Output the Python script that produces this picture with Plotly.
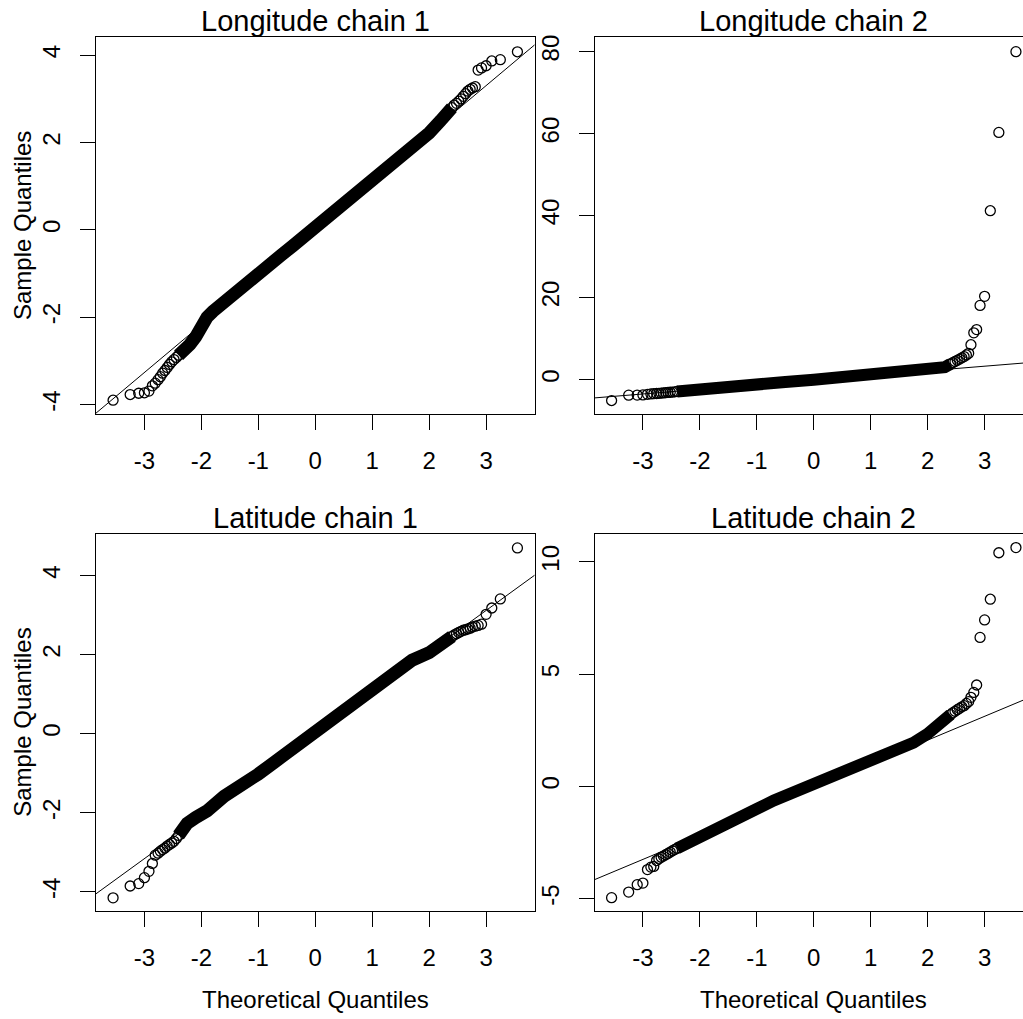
import plotly.graph_objects as go

# ---------------- data ----------------
titles = ["Longitude chain 1", "Longitude chain 2", "Latitude chain 1", "Latitude chain 2"]
x_ticks = [-3, -2, -1, 0, 1, 2, 3]
y_ticks_tl = [-4, -2, 0, 2, 4]
y_ticks_tr = [0, 20, 40, 60, 80]
y_ticks_bl = [-4, -2, 0, 2, 4]
y_ticks_br = [-5, 0, 5, 10]

# theoretical quantiles of the separate (tail) points
tail_x_low = [-3.55, -3.25, -3.10, -3.00, -2.92, -2.86, -2.81, -2.76, -2.72, -2.68, -2.64,
              -2.60, -2.56, -2.52, -2.48, -2.44, -2.40]
tail_x_high = [2.40, 2.44, 2.48, 2.52, 2.56, 2.60,
               2.64, 2.68, 2.72, 2.76, 2.81, 2.86, 2.92, 3.00, 3.10, 3.25, 3.55]

# Longitude chain 1
tl_low_y = [-3.90, -3.77, -3.74, -3.73, -3.69, -3.57, -3.51, -3.43, -3.36, -3.28, -3.22,
            -3.15, -3.08, -3.02, -2.97, -2.92, -2.87]
tl_high_y = [2.80, 2.86, 2.90, 2.95, 3.00, 3.06,
             3.12, 3.18, 3.22, 3.25, 3.28, 3.66, 3.71, 3.76, 3.87, 3.90, 4.08]
tl_band_x = [-2.4, -2.3, -2.2, -2.1, -2.0, -1.9, -1.8, -1.6, -1.4, -1.2, -1.0, -0.8, -0.6, -0.4,
             -0.2, 0.0, 0.2, 0.4, 0.6, 0.8, 1.0, 1.2, 1.4, 1.6, 1.8, 2.0, 2.2, 2.4]
tl_band_y = [-2.87, -2.77, -2.62, -2.45, -2.20, -2.00, -1.87, -1.64, -1.45, -1.22, -1.00, -0.80,
             -0.58, -0.37, -0.16, 0.08, 0.28, 0.50, 0.70, 0.93, 1.14, 1.36, 1.58, 1.79, 2.00,
             2.22, 2.50, 2.80]
tl_qqline = (1.095, 0.02)   # slope, intercept

# Longitude chain 2
tr_low_y = [-5.12, -3.80, -3.78, -3.76, -3.60, -3.50, -3.45, -3.40, -3.35, -3.30, -3.25,
            -3.20, -3.15, -3.10, -3.05, -3.00, -2.90]
tr_high_y = [3.80, 4.10, 4.40, 4.70, 5.00, 5.30,
             5.60, 6.00, 6.40, 8.50, 11.4, 12.2, 18.1, 20.3, 41.2, 60.3, 80.0]
tr_band_x = [-2.4, -2.2, -2.0, -1.5, -1.0, -0.5, 0.0, 0.5, 1.0, 1.5, 2.0, 2.2, 2.3, 2.4]
tr_band_y = [-2.90, -2.60, -2.35, -1.80, -1.20, -0.60, -0.05, 0.50, 1.05, 1.60, 2.20, 2.60,
             3.00, 3.80]
tr_qqline = (1.13, -0.13)

# Latitude chain 1
bl_low_y = [-4.15, -3.85, -3.79, -3.64, -3.48, -3.28, -3.07, -3.02, -2.97, -2.93, -2.89,
            -2.84, -2.80, -2.76, -2.72, -2.65, -2.57]
bl_high_y = [2.46, 2.50, 2.53, 2.56, 2.59, 2.62,
             2.63, 2.65, 2.67, 2.70, 2.72, 2.74, 2.77, 3.02, 3.18, 3.41, 4.70]
bl_band_x = [-2.4, -2.25, -2.1, -1.9, -1.6, -1.3, -1.0, -0.7, -0.4, 0.0, 0.5, 1.0, 1.4, 1.7,
             2.0, 2.3, 2.4]
bl_band_y = [-2.57, -2.27, -2.12, -1.95, -1.58, -1.33, -1.02, -0.70, -0.38, 0.03, 0.57, 1.09,
             1.52, 1.86, 2.05, 2.37, 2.46]
bl_qqline = (1.046, -0.02)

# Latitude chain 2
br_low_y = [-4.95, -4.70, -4.37, -4.30, -3.70, -3.59, -3.56, -3.30, -3.22, -3.15, -3.10,
            -3.04, -2.98, -2.92, -2.86, -2.80, -2.75]
br_high_y = [3.20, 3.28, 3.35, 3.42, 3.48, 3.55,
             3.60, 3.70, 3.78, 3.97, 4.19, 4.52, 6.64, 7.42, 8.34, 10.41, 10.64]
br_band_x = [-2.4, -2.2, -2.0, -1.6, -1.3, -1.0, -0.7, -0.4, 0.0, 0.4, 0.8, 1.0, 1.3, 1.6,
             1.75, 2.0, 2.2, 2.4]
br_band_y = [-2.75, -2.52, -2.28, -1.78, -1.36, -1.00, -0.62, -0.30, 0.03, 0.45, 0.90, 1.15,
             1.52, 1.80, 1.95, 2.35, 2.70, 3.20]
br_qqline = (1.062, -0.06)

# ---------------- layout geometry ----------------
W, H = 1023, 1019
FONT = "Liberation Sans, Arial, sans-serif"
X_RANGE_L = [-3.85, 3.85]
X_RANGE_R = [-3.85, 3.674]
left_dom = [96 / W, 534.5 / W]
right_dom = [594.5 / W, 1.0]
top_dom = [1 - 413 / H, 1 - 35 / H]
bot_dom = [1 - 910.7 / H, 1 - 532.7 / H]

panels = [
    dict(xa="x", ya="y", xd=left_dom, yd=top_dom, xr=X_RANGE_L, yr=[-4.22, 4.42],
         yt=y_ticks_tl, low=tl_low_y, high=tl_high_y, bx=tl_band_x, by=tl_band_y,
         qq=tl_qqline, title=titles[0], ylab=True, xlab=False, right=False, bw=13),
    dict(xa="x2", ya="y2", xd=right_dom, yd=top_dom, xr=X_RANGE_R, yr=[-8.45, 83.6],
         yt=y_ticks_tr, low=tr_low_y, high=tr_high_y, bx=tr_band_x, by=tr_band_y,
         qq=tr_qqline, title=titles[1], ylab=False, xlab=False, right=True, bw=12),
    dict(xa="x3", ya="y3", xd=left_dom, yd=bot_dom, xr=X_RANGE_L, yr=[-4.48, 5.06],
         yt=y_ticks_bl, low=bl_low_y, high=bl_high_y, bx=bl_band_x, by=bl_band_y,
         qq=bl_qqline, title=titles[2], ylab=True, xlab=True, right=False, bw=13),
    dict(xa="x4", ya="y4", xd=right_dom, yd=bot_dom, xr=X_RANGE_R, yr=[-5.54, 11.26],
         yt=y_ticks_br, low=br_low_y, high=br_high_y, bx=br_band_x, by=br_band_y,
         qq=br_qqline, title=titles[3], ylab=False, xlab=True, right=True, bw=12),
]

fig = go.Figure()
layout = dict(width=W, height=H, autosize=False, margin=dict(l=0, r=0, t=0, b=0),
              paper_bgcolor="white", plot_bgcolor="white", showlegend=False,
              font=dict(family=FONT, color="black", size=24))
annotations = []

for p in panels:
    # dense body of points (drawn as a heavy stroke through read positions)
    fig.add_trace(go.Scatter(x=p["bx"], y=p["by"], xaxis=p["xa"], yaxis=p["ya"],
                             mode="lines", line=dict(color="black", width=p["bw"]),
                             hoverinfo="skip"))
    # separate points
    fig.add_trace(go.Scatter(x=tail_x_low + tail_x_high, y=p["low"] + p["high"],
                             xaxis=p["xa"], yaxis=p["ya"], mode="markers",
                             marker=dict(symbol="circle-open", size=10, color="black",
                                         line=dict(width=1.3, color="black"))))
    # qqline
    s, b = p["qq"]
    lx = [-4.5, 4.5]
    fig.add_trace(go.Scatter(x=lx, y=[s * v + b for v in lx], xaxis=p["xa"], yaxis=p["ya"],
                             mode="lines", line=dict(color="black", width=1)))

    xkey = "xaxis" + p["xa"][1:]
    ykey = "yaxis" + p["ya"][1:]
    layout[xkey] = dict(domain=p["xd"], range=p["xr"], anchor=p["ya"], showgrid=False,
                        zeroline=False, showline=True, linecolor="black", linewidth=1,
                        mirror=True, ticks="outside", ticklen=15, tickwidth=1,
                        tickcolor="black", tickvals=x_ticks, ticktext=[str(v) for v in x_ticks],
                        tickfont=dict(size=24, family=FONT, color="black"),
                        ticklabelstandoff=10, fixedrange=True)
    layout[ykey] = dict(domain=p["yd"], range=p["yr"], anchor=p["xa"], showgrid=False,
                        zeroline=False, showline=True, linecolor="black", linewidth=1,
                        mirror=not p["right"], ticks="outside", ticklen=15, tickwidth=1,
                        tickcolor="black", tickvals=p["yt"], ticktext=[str(v) for v in p["yt"]],
                        tickangle=-90, tickfont=dict(size=24, family=FONT, color="black"),
                        ticklabelstandoff=10, fixedrange=True)

    ytop_px = (1 - p["yd"][1]) * H
    annotations.append(dict(text=p["title"], xref=p["xa"], x=0, yref="paper",
                            y=1 - (ytop_px - 16) / H, xanchor="center", yanchor="middle",
                            showarrow=False, font=dict(size=29, family=FONT, color="black")))
    if p["ylab"]:
        annotations.append(dict(text="Sample Quantiles", xref="paper", x=22.5 / W, yref="paper",
                                y=(p["yd"][0] + p["yd"][1]) / 2, xanchor="center",
                                yanchor="middle", textangle=-90, showarrow=False,
                                font=dict(size=24, family=FONT, color="black")))
    if p["xlab"]:
        annotations.append(dict(text="Theoretical Quantiles", xref=p["xa"], x=0, yref="paper",
                                y=1 - 999 / H, xanchor="center", yanchor="middle",
                                showarrow=False, font=dict(size=24, family=FONT, color="black")))

layout["annotations"] = annotations
fig.update_layout(**layout)
fig.write_html(
    "out.html",
    config={"displayModeBar": False, "staticPlot": False},
    post_script="document.body.style.margin='0';document.body.style.padding='0';"
                "document.body.style.overflow='hidden';"
                "document.documentElement.style.overflow='hidden';",
)
